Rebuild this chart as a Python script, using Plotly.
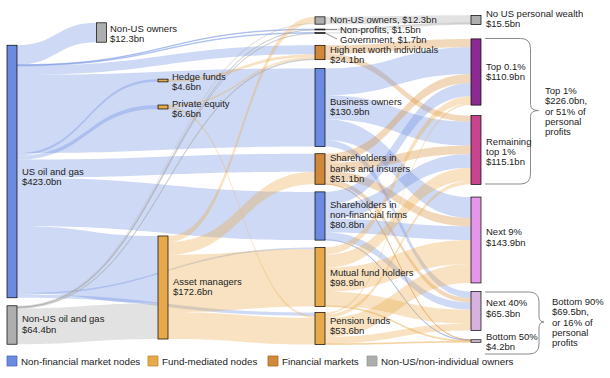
import plotly.graph_objects as go

# ---------------- data ----------------
node_names = [
    "US oil and gas", "Non-US oil and gas",
    "Non-US owners", "Hedge funds", "Private equity", "Asset managers",
    "Non-US owners", "Non-profits", "Government", "High net worth individuals",
    "Business owners", "Shareholders in|banks and insurers",
    "Shareholders in|non-financial firms", "Mutual fund holders", "Pension funds",
    "No US personal wealth", "Top 0.1%", "Remaining|top 1%", "Next 9%", "Next 40%", "Bottom 50%",
]
node_value_labels = [
    "$423.0bn", "$64.4bn", "$12.3bn", "$4.6bn", "$6.6bn", "$172.6bn",
    "$12.3bn", "$1.5bn", "$1.7bn", "$24.1bn", "$130.9bn", "$51.1bn", "$80.8bn", "$98.9bn", "$53.6bn",
    "$15.5bn", "$110.9bn", "$115.1bn", "$143.9bn", "$65.3bn", "$4.2bn",
]
node_groups = [
    "nonfin", "nonus", "nonus", "fund", "fund", "fund",
    "nonus", "nonus", "nonus", "finmkt", "nonfin", "finmkt", "nonfin", "fund", "fund",
    "nonus", "top01", "remtop1", "next9", "next40", "bottom50",
]

link_source = [0, 0, 0, 0, 0, 0, 0, 0, 0, 0, 0, 0,
               1, 1, 1, 1, 1,
               3, 4, 4,
               5, 5, 5, 5,
               6, 7, 8,
               9, 9,
               10, 10, 10, 10,
               11, 11, 11, 11, 11,
               12, 12, 12, 12, 12,
               13, 13, 13, 13, 13,
               14, 14, 14, 14, 14]
link_target = [2, 3, 4, 5, 9, 10, 11, 12, 7, 8, 14, 13,
               5, 6, 7, 8, 9,
               9, 9, 14,
               6, 11, 13, 14,
               15, 15, 15,
               16, 17,
               16, 17, 18, 19,
               16, 17, 18, 19, 20,
               16, 17, 18, 19, 20,
               16, 17, 18, 19, 20,
               16, 17, 18, 19, 20]
link_value = [32.5, 4.6, 6.6, 112.6, 15.0, 130.9, 30.0, 80.8, 1.0, 1.2, 5.4, 2.4,
              60.0, 2.0, 0.5, 0.5, 1.4,
              4.6, 3.1, 3.5,
              10.3, 21.1, 96.5, 44.7,
              12.3, 1.5, 1.7,
              14.0, 10.1,
              45.0, 40.0, 35.0, 10.9,
              15.0, 14.0, 14.0, 7.6, 0.5,
              22.0, 23.0, 23.0, 12.0, 0.8,
              12.0, 22.0, 40.0, 23.4, 1.5,
              2.9, 6.0, 31.9, 11.4, 1.4]

legend_labels = ["Non-financial market nodes", "Fund-mediated nodes",
                 "Financial markets", "Non-US/non-individual owners"]
legend_groups = ["nonfin", "fund", "finmkt", "nonus"]

bracket_top_lines = ["Top 1%", "$226.0bn,", "or 51% of", "personal", "profits"]
bracket_bottom_lines = ["Bottom 90%", "$69.5bn,", "or 16% of", "personal", "profits"]

# ---------------- styles / layout ----------------
W, H = 610, 378
FONT = "Arial, Liberation Sans, sans-serif"
TXT = "#222222"

group_fill = {
    "nonfin": "#6b8be0", "fund": "#e6aa4c", "finmkt": "#d0883a", "nonus": "#aeaeae",
    "top01": "#8c2a92", "remtop1": "#c8448f", "next9": "#e497e8",
    "next40": "#d7b2de", "bottom50": "#dcc2e2",
}
group_line = {
    "nonfin": "#4a68c0", "fund": "#c08a32", "finmkt": "#a86a26", "nonus": "#9a9a9a",
    "top01": "#6e1e74", "remtop1": "#a33272", "next9": "#c479c8",
    "next40": "#b996c0", "bottom50": "#b89ebf",
}
group_link = {
    "nonfin": "rgba(107,139,224,0.33)", "fund": "rgba(234,170,72,0.34)",
    "finmkt": "rgba(218,140,56,0.34)", "nonus": "rgba(165,165,165,0.32)",
}

# node centre positions in pixels
node_px_x = [12, 12, 101.5, 163, 163, 163,
             320, 320, 320, 320, 320, 320, 320, 320, 320,
             476, 476, 476, 476, 476, 476]
node_px_y = [171.5, 325, 32.5, 80.5, 107, 287.5,
             20.5, 29.5, 33, 52.5, 107.5, 169, 216, 277, 328.5,
             20, 72, 150, 240, 311, 341]

TOP, BOT = 10.0, 350.0
HS = BOT - TOP
KY = 0.597
pad = (HS - KY * 487.4) / 6.0

node_x = [px / W for px in node_px_x]
node_y = [(py - TOP) / HS for py in node_px_y]

fig = go.Figure(go.Sankey(
    arrangement="fixed",
    domain=dict(x=[0, 1], y=[1 - BOT / H, 1 - TOP / H]),
    node=dict(
        label=["" for _ in node_names],
        x=node_x, y=node_y,
        pad=pad, thickness=10,
        color=[group_fill[g] for g in node_groups],
        line=dict(color=[group_line[g] for g in node_groups], width=0.7),
        hovertemplate="%{customdata}<extra></extra>",
        customdata=[n.replace("|", " ") + " " + v for n, v in zip(node_names, node_value_labels)],
    ),
    link=dict(
        source=link_source, target=link_target, value=link_value,
        color=[group_link[node_groups[s]] for s in link_source],
        hoverinfo="skip",
    ),
))

# ---------------- labels ----------------
label_pos = {
    0: (20, 176.5), 1: (20, 324), 2: (108, 33.5), 3: (170, 81.5), 4: (170, 108.5),
    5: (171, 286.5), 6: (328, 19.5), 7: (338, 29.5), 8: (338, 39.5), 9: (328, 54.5),
    10: (328, 106.5), 11: (328, 168), 12: (328, 214.5), 13: (328, 277.5), 14: (328, 325.5),
    15: (484, 18.5), 16: (484, 71.5), 17: (484, 151.5), 18: (484, 237), 19: (484, 308),
    20: (484, 341.5),
}
single_line = {6, 7, 8}
SP = 10.4

annotations = []


def add_lines(x, yc, lines, sp=SP, size=9.5):
    n = len(lines)
    for i, t in enumerate(lines):
        y = yc + (i - (n - 1) / 2) * sp
        annotations.append(dict(
            x=x / W, y=1 - y / H, xref="paper", yref="paper", text=t,
            showarrow=False, xanchor="left", yanchor="middle",
            font=dict(family=FONT, size=size, color=TXT),
        ))


for i, name in enumerate(node_names):
    x, yc = label_pos[i]
    if i in single_line:
        lines = [name + ", " + node_value_labels[i]]
    else:
        lines = name.split("|") + [node_value_labels[i]]
    add_lines(x, yc, lines)

add_lines(543, 111, bracket_top_lines, sp=10.2)
add_lines(550, 322, bracket_bottom_lines, sp=10.2)

# legend
legend_sq_x = [7, 148, 268, 367]
for gx, lab, g in zip(legend_sq_x, legend_labels, legend_groups):
    annotations.append(dict(
        x=(gx + 12) / W, y=1 - 361 / H, xref="paper", yref="paper", text=lab,
        showarrow=False, xanchor="left", yanchor="middle",
        font=dict(family=FONT, size=9.8, color=TXT),
    ))

shapes = []
for gx, g in zip(legend_sq_x, legend_groups):
    shapes.append(dict(
        type="rect", xref="paper", yref="paper",
        x0=gx / W, x1=(gx + 10) / W, y0=1 - 366 / H, y1=1 - 356 / H,
        fillcolor=group_fill[g], line=dict(color=group_line[g], width=0.8),
    ))


def P(x, y):
    return f"{x / W:.5f},{1 - y / H:.5f}"


def brace(xl, xv, xt, y0, ym, y1, r=10):
    return (f"M {P(xl, y0)} L {P(xv - r, y0)} Q {P(xv, y0)} {P(xv, y0 + r)} "
            f"L {P(xv, ym - 6)} Q {P(xv, ym)} {P(xt, ym)} Q {P(xv, ym)} {P(xv, ym + 6)} "
            f"L {P(xv, y1 - r)} Q {P(xv, y1)} {P(xv - r, y1)} L {P(xl, y1)}")


shapes.append(dict(type="path", xref="paper", yref="paper",
                   path=brace(485, 530.5, 538.5, 38.5, 110.5, 184),
                   line=dict(color="#8a8a8a", width=1)))
shapes.append(dict(type="path", xref="paper", yref="paper",
                   path=brace(485, 539, 544, 292, 322, 354),
                   line=dict(color="#8a8a8a", width=1)))

# leader lines for tiny nodes
shapes.append(dict(type="line", xref="paper", yref="paper",
                   x0=325 / W, x1=337 / W, y0=1 - 29.5 / H, y1=1 - 29.5 / H,
                   line=dict(color="#7a7a7a", width=0.8)))
shapes.append(dict(type="line", xref="paper", yref="paper",
                   x0=325 / W, x1=337 / W, y0=1 - 33 / H, y1=1 - 39 / H,
                   line=dict(color="#7a7a7a", width=0.8)))

fig.update_layout(
    width=W, height=H, autosize=False,
    margin=dict(l=0, r=0, t=0, b=0),
    paper_bgcolor="white", plot_bgcolor="white",
    annotations=annotations, shapes=shapes,
    font=dict(family=FONT, size=10, color=TXT),
)

fig.write_html(
    "out.html",
    config={"displayModeBar": False},
    post_script="document.body.style.margin='0';document.body.style.overflow='hidden';",
)
